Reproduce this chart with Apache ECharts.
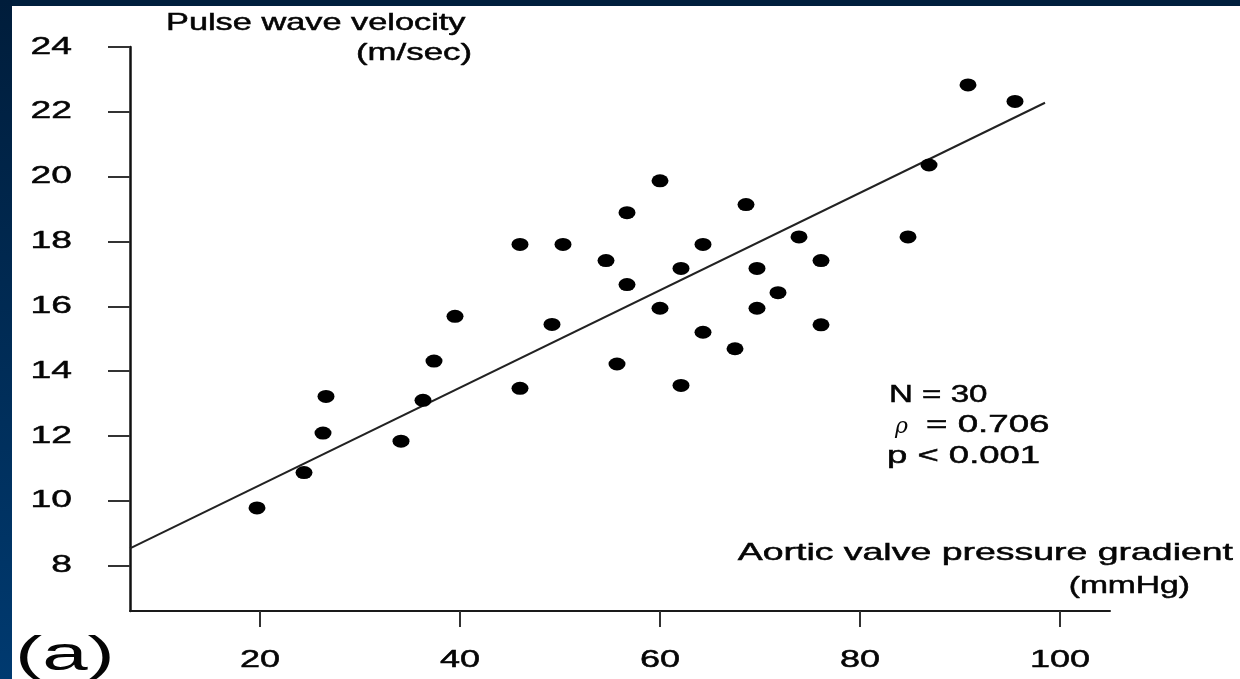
<!DOCTYPE html>
<html>
<head>
<meta charset="utf-8">
<script src="https://cdn.jsdelivr.net/npm/echarts@6/dist/echarts.min.js"></script>
<style>
  html, body { margin: 0; padding: 0; background: #fff; }
  #chart { width: 1240px; height: 679px; }
</style>
</head>
<body>
<div id="chart"></div>
<script>
// Aortic valve pressure gradient (mmHg) vs pulse wave velocity (m/sec)
const gradient = [19.7, 24.4, 26.3, 26.6, 34.1, 36.3, 37.4, 39.5, 46.0, 46.0,
                  49.2, 50.3, 54.6, 55.7, 56.7, 56.7, 60.0, 60.0, 62.1, 62.1,
                  64.3, 64.3, 67.5, 68.6, 69.7, 69.7, 71.8, 73.9, 76.1, 76.1,
                  84.8, 86.9, 90.8, 95.5];
const velocity = [9.78, 10.87, 12.09, 13.22, 11.84, 13.10, 14.31, 15.69, 17.91, 13.47,
                  15.44, 17.91, 17.41, 14.22, 18.89, 16.67, 19.87, 15.94, 17.17, 13.56,
                  17.91, 15.20, 14.69, 19.14, 17.17, 15.94, 16.42, 18.14, 17.41, 15.43,
                  18.14, 20.36, 22.83, 22.32];
// regression line end points [gradient, velocity]
const fitLine = [[7, 8.53], [98.5, 22.28]];
const xTicks = [20, 40, 60, 80, 100];
const yTicks = [8, 10, 12, 14, 16, 18, 20, 22, 24];
const xLabels = ['20', '40', '60', '80', '100'];
const yLabels = ['8', '10', '12', '14', '16', '18', '20', '22', '24'];
const statsLines = ['N = 30', '= 0.706', 'p < 0.001'];

const points = gradient.map((g, i) => [g, velocity[i]]);
const font = '"Liberation Sans", Arial, sans-serif';
const INK = '#050505';

// The lettering in this figure is set in a horizontally widened face.
function wideText(text, x, y, align, size, sx, extra) {
  return Object.assign({
    type: 'text', x: x, y: y, scaleX: sx, scaleY: 1, z: 50,
    style: {
      text: text, x: 0, y: 0, align: align, verticalAlign: 'middle',
      font: size + 'px ' + font, fill: INK, stroke: INK, lineWidth: 0.5
    }
  }, extra || {});
}

const chart = echarts.init(document.getElementById('chart'), null, { renderer: 'canvas' });
chart.setOption({
  backgroundColor: '#ffffff',
  animation: false,
  grid: { left: 130, top: 47, width: 980, height: 564, containLabel: false },
  xAxis: {
    type: 'value', min: 7, max: 105,
    axisLine: { show: true, lineStyle: { color: '#1a1a1a', width: 2 } },
    axisTick: { show: true, customValues: xTicks, length: 16, lineStyle: { color: '#333', width: 2 } },
    axisLabel: { show: false },
    splitLine: { show: false }
  },
  yAxis: {
    type: 'value', min: 6.6, max: 24,
    axisLine: { show: true, lineStyle: { color: '#111', width: 2.5 } },
    axisTick: { show: true, customValues: yTicks, length: 22, lineStyle: { color: '#333', width: 2 } },
    axisLabel: { show: false },
    splitLine: { show: false }
  },
  series: [
    {
      type: 'line', data: fitLine, showSymbol: false, symbol: 'none',
      lineStyle: { color: '#222', width: 2 }, z: 2
    },
    {
      type: 'scatter', data: points, symbol: 'circle', symbolSize: [17, 13],
      itemStyle: { color: '#000', opacity: 1 }, z: 3
    }
  ]
});

// tick labels placed through the axis scales
const tickText = [];
xTicks.forEach((v, i) => {
  const p = chart.convertToPixel({ gridIndex: 0 }, [v, 6.6]);
  tickText.push(wideText(xLabels[i], p[0], 660, 'center', 24, 1.5));
});
yTicks.forEach((v, i) => {
  const p = chart.convertToPixel({ gridIndex: 0 }, [7, v]);
  tickText.push(wideText(yLabels[i], 72, p[1], 'right', 24, 1.55));
});

chart.setOption({
  graphic: [
    // navy frame
    { type: 'rect', x: 0, y: 0, shape: { width: 1240, height: 6 }, style: { fill: '#001f3d' }, z: 100 },
    { type: 'rect', x: 0, y: 0, shape: { width: 12, height: 679 },
      style: { fill: new echarts.graphic.LinearGradient(0, 0, 0, 1, [
        { offset: 0, color: '#001d3b' }, { offset: 1, color: '#003a70' }]) }, z: 100 },
    // axis titles
    wideText('Pulse wave velocity', 166, 23, 'left', 24, 1.43),
    wideText('(m/sec)', 472, 53, 'right', 24, 1.45),
    wideText('Aortic valve pressure gradient', 1233, 553, 'right', 24, 1.56),
    wideText('(mmHg)', 1190, 586, 'right', 24, 1.4),
    // statistics
    wideText(statsLines[0], 889, 395, 'left', 24, 1.38),
    { type: 'text', x: 895, y: 427, z: 50,
      style: { text: 'ρ', x: 0, y: 0, align: 'left', verticalAlign: 'middle',
               font: 'italic 22px "DejaVu Serif", serif', fill: INK } },
    wideText(statsLines[1], 926, 425, 'left', 24, 1.53),
    wideText(statsLines[2], 887, 456, 'left', 24, 1.52),
    // panel label
    { type: 'text', x: 15, y: 657, scaleX: 1.7, z: 50,
      style: { text: '(a)', x: 0, y: 0, align: 'left', verticalAlign: 'middle',
               font: '48px ' + font, fill: INK } }
  ].concat(tickText)
});
</script>
</body>
</html>
